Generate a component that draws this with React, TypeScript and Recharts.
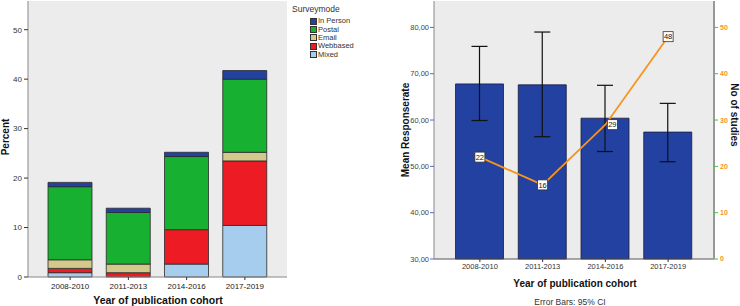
import React from 'react';
import {
  ComposedChart, Bar, Line, XAxis, YAxis, CartesianGrid, ErrorBar, LabelList, Legend,
} from 'recharts';

const FONT = '"Liberation Sans", Arial, sans-serif';

// ---- Left chart data (percent of all studies) ----
const cohorts = ['2008-2010', '2011-2013', '2014-2016', '2017-2019'];
const mixedPct = [0.87, 0, 2.61, 10.43];
const webbasedPct = [0.87, 0.87, 6.96, 13.04];
const emailPct = [1.74, 1.74, 0, 1.74];
const postalPct = [14.78, 10.43, 14.78, 14.78];
const inPersonPct = [0.87, 0.87, 0.87, 1.74];
const percentTicks = [0, 10, 20, 30, 40, 50];

// ---- Right chart data ----
const meanResponse = [67.8, 67.6, 60.4, 57.4];
const ciLower = [59.9, 56.4, 53.2, 51.0];
const ciUpper = [75.9, 79.0, 67.5, 63.6];
const nStudies = [22, 16, 29, 48];
const responseTicks = [30, 40, 50, 60, 70, 80];
const studyTicks = [0, 10, 20, 30, 40, 50];

const seriesDefs = [
  { key: 'mixed', name: 'Mixed', color: '#a7cdee', values: mixedPct },
  { key: 'webbased', name: 'Webbased', color: '#ed1c24', values: webbasedPct },
  { key: 'email', name: 'Email', color: '#d3c98c', values: emailPct },
  { key: 'postal', name: 'Postal', color: '#18b030', values: postalPct },
  { key: 'inperson', name: 'In Person', color: '#2341a0', values: inPersonPct },
];

const leftData = cohorts.map((c, i) => {
  const row: any = { cohort: c };
  seriesDefs.forEach((s) => { row[s.key] = s.values[i]; });
  return row;
});

const rightData = cohorts.map((c, i) => ({
  cohort: c,
  mean: meanResponse[i],
  err: [meanResponse[i] - ciLower[i], ciUpper[i] - meanResponse[i]],
  n: nStudies[i],
}));

const SurveyLegend = () => (
  <div style={{ fontFamily: FONT, color: '#333', textAlign: 'left' }}>
    <div style={{ fontSize: 8.5, lineHeight: '10px', marginBottom: 3, color: '#333' }}>Surveymode</div>
    {[...seriesDefs].reverse().map((s) => (
      <div key={s.key} style={{ display: 'flex', alignItems: 'center', height: 8.4, marginLeft: 18 }}>
        <span style={{ display: 'inline-block', width: 5, height: 5, background: s.color, border: '0.8px solid #333', marginRight: 1 }} />
        <span style={{ fontSize: 7.5, lineHeight: '8px', color: '#333' }}>{s.name}</span>
      </div>
    ))}
  </div>
);

const BoxLabel = (props: any) => {
  const { x, y, value, index } = props;
  const dx = index === 2 ? 7 : 0;
  const cx = x + dx;
  return (
    <g>
      <rect x={cx - 5} y={y - 5} width={10} height={10} fill="#fff" stroke="#333" strokeWidth={0.8} />
      <text x={cx} y={y + 2.8} textAnchor="middle" fontSize={7.5} fill="#111" fontFamily={FONT}>{value}</text>
    </g>
  );
};

const fmtComma = (v: number) => v.toFixed(2).replace('.', ',');

export default function App() {
  return (
    <div style={{ position: 'absolute', left: 0, top: 0, width: 740, height: 306, background: '#fff', fontFamily: FONT, overflow: 'hidden' }}>
      <div style={{ position: 'absolute', left: 0, top: 0 }}>
        <ComposedChart width={370} height={306} data={leftData} margin={{ top: 1, right: 83, bottom: 0, left: 0 }} barSize={44}>
          <CartesianGrid fill="#ececec" stroke="none" />
          <XAxis dataKey="cohort" height={29} padding={{ left: 13, right: 13 }} tickSize={3} tickMargin={3}
            tick={{ fontSize: 8, fill: '#222', fontFamily: FONT }} axisLine={{ stroke: '#888' }} tickLine={{ stroke: '#333' }} interval={0} />
          <XAxis xAxisId="top" orientation="top" dataKey="cohort" height={0} tick={false} tickLine={false} axisLine={{ stroke: '#999' }} />
          <YAxis domain={[0, 55.8]} ticks={percentTicks} width={28} tickSize={4} tickMargin={2}
            tick={{ fontSize: 8, fill: '#333', fontFamily: FONT }} axisLine={{ stroke: '#888' }} tickLine={{ stroke: '#333' }} />
          <YAxis yAxisId="r" orientation="right" width={0} tick={false} tickLine={false} axisLine={{ stroke: '#999' }} />
          {seriesDefs.map((s) => (
            <Bar key={s.key} dataKey={s.key} name={s.name} stackId="a" fill={s.color} stroke="#2a2a2a" strokeWidth={0.8} isAnimationActive={false} />
          ))}
          <Legend layout="horizontal" verticalAlign="middle" align="center" content={() => <SurveyLegend />}
            wrapperStyle={{ left: 292, top: 4, width: 78, height: 62 }} />
        </ComposedChart>
      </div>

      <div style={{ position: 'absolute', left: 370, top: 0 }}>
        <ComposedChart width={370} height={306} data={rightData} margin={{ top: 1, right: 0, bottom: 0, left: 0 }} barSize={48}>
          <CartesianGrid fill="#ececec" stroke="none" yAxisId="left" />
          <XAxis dataKey="cohort" height={47} padding={{ left: 14.5, right: 14.5 }} tickSize={3} tickMargin={2}
            tick={{ fontSize: 7.5, fill: '#333', fontFamily: FONT }} axisLine={{ stroke: '#555' }} tickLine={{ stroke: '#333' }} interval={0} />
          <XAxis xAxisId="top" orientation="top" dataKey="cohort" height={0} tick={false} tickLine={false} axisLine={{ stroke: '#999' }} />
          <YAxis yAxisId="left" domain={[30, 85.7]} ticks={responseTicks} width={64} tickSize={4} tickMargin={1}
            tickFormatter={fmtComma} tick={{ fontSize: 7.5, fill: '#444', fontFamily: FONT }} axisLine={{ stroke: '#888' }} tickLine={{ stroke: '#5566cc' }} />
          <YAxis yAxisId="right" orientation="right" domain={[0, 55.7]} ticks={studyTicks} width={26} tickSize={4} tickMargin={2}
            tick={{ fontSize: 7, fill: '#f7941d', fontWeight: 'bold', fontFamily: FONT }} axisLine={{ stroke: '#999', strokeWidth: 2 }} tickLine={{ stroke: '#33cc33' }} />
          <Bar yAxisId="left" dataKey="mean" fill="#2341a0" stroke="#1a1a3a" strokeWidth={0.8} isAnimationActive={false}>
            <ErrorBar dataKey="err" width={8} stroke="#111" strokeWidth={1.2} direction="y" />
          </Bar>
          <Line yAxisId="right" type="linear" dataKey="n" stroke="#f7941d" strokeWidth={1.8} dot={false} isAnimationActive={false}>
            <LabelList dataKey="n" content={<BoxLabel />} />
          </Line>
        </ComposedChart>
      </div>

      <svg width={740} height={306} style={{ position: 'absolute', left: 0, top: 0, pointerEvents: 'none' }}>
        <text x={0} y={0} transform="translate(8.5,137) rotate(-90)" textAnchor="middle" fontSize={10} fontWeight="bold" fill="#111" fontFamily={FONT}>Percent</text>
        <text x={158} y={304} textAnchor="middle" fontSize={10.5} fontWeight="bold" fill="#111" fontFamily={FONT}>Year of publication cohort</text>
        <text x={0} y={0} transform="translate(409,130) rotate(-90)" textAnchor="middle" fontSize={10} fontWeight="bold" fill="#111" fontFamily={FONT}>Mean Responserate</text>
        <text x={0} y={0} transform="translate(730.5,115) rotate(90)" textAnchor="middle" fontSize={10} fontWeight="bold" fill="#111" fontFamily={FONT}>No of studies</text>
        <text x={575} y={287} textAnchor="middle" fontSize={10} fontWeight="bold" fill="#111" fontFamily={FONT}>Year of publication cohort</text>
        <text x={570} y={305} textAnchor="middle" fontSize={8.5} fill="#333" fontFamily={FONT}>Error Bars: 95% CI</text>
      </svg>
    </div>
  );
}
